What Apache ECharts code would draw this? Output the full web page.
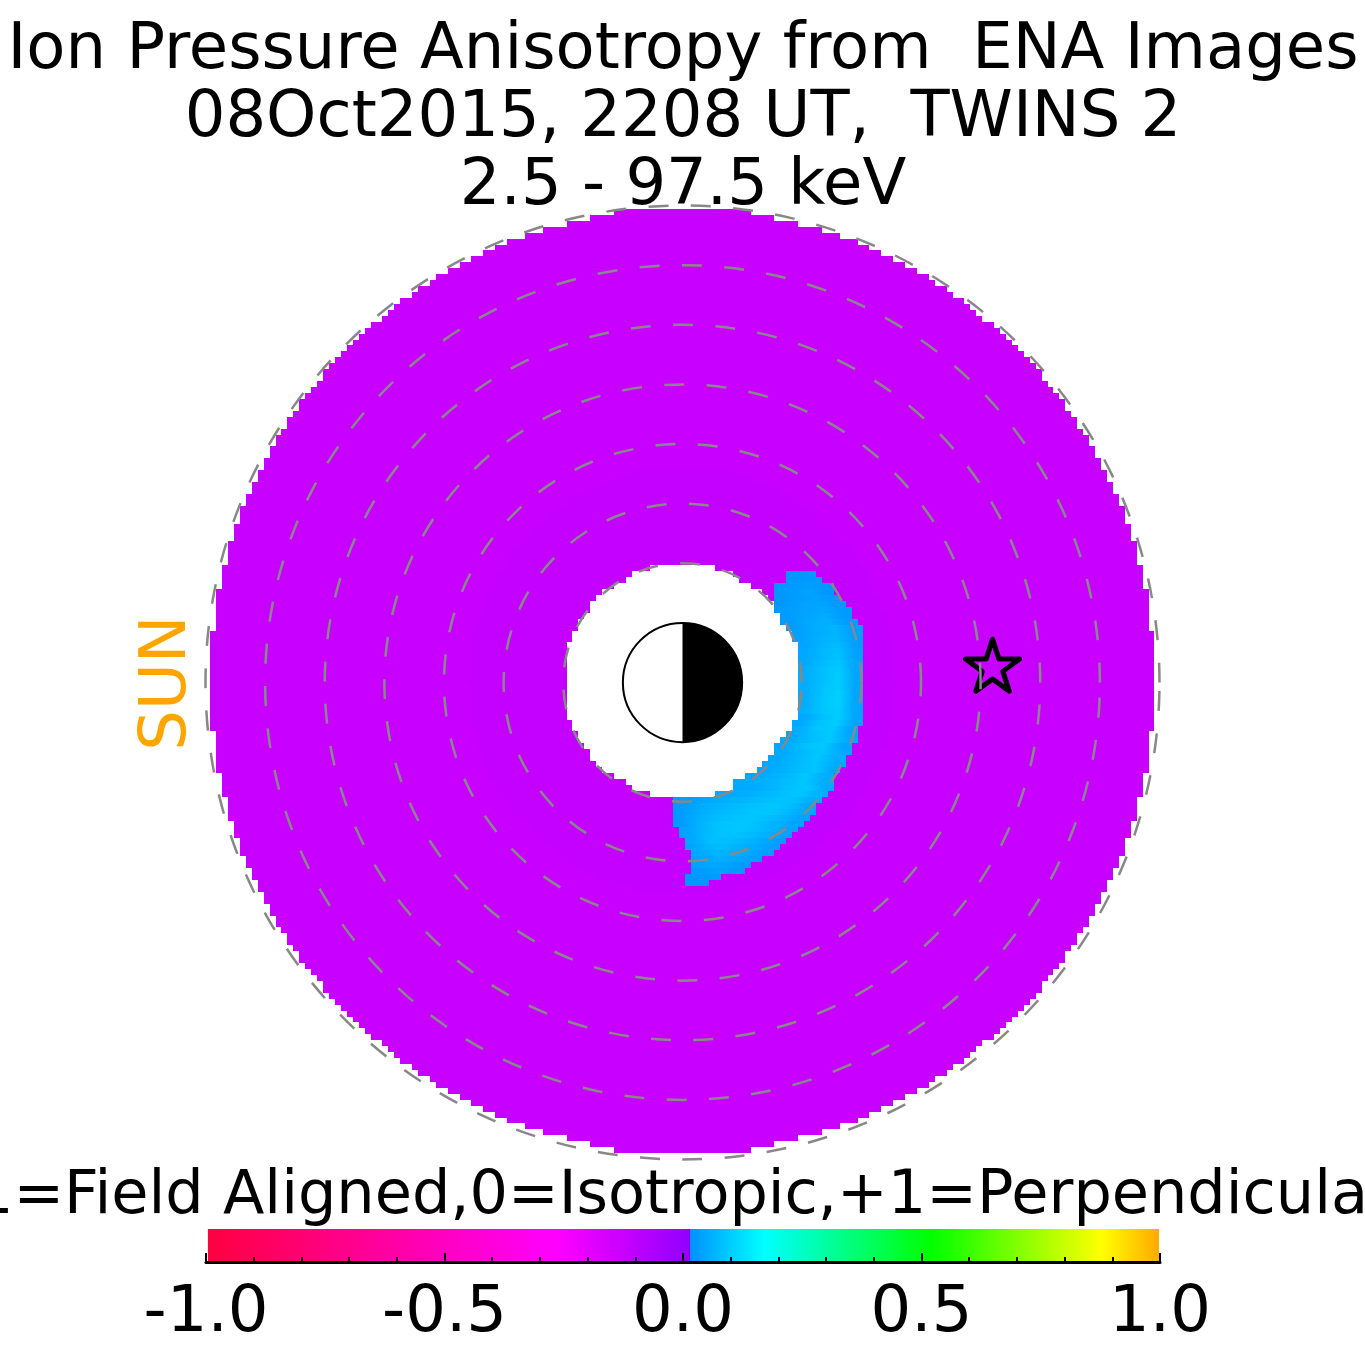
<!DOCTYPE html>
<html>
<head>
<meta charset="utf-8">
<style>
  html, body { margin: 0; padding: 0; background: #fff; }
  #chart { width: 1365px; height: 1365px; }
</style>
<script src="https://cdn.jsdelivr.net/npm/echarts@6/dist/echarts.min.js"></script>
</head>
<body>
<div id="chart"></div>
<script>
// one cell of the image is about 0.1 Re, rows and columns below are counted in cells from the Earth
const cellSize = 0.0996;
const cellOriginX = -0.003;
const cellOriginY = 0.025;
const backgroundValue = -0.125;
const nearEarthValue = -0.115;

// half width of the image for row |k| = 0..79
const outerHalfWidth = [
  79, 79, 79, 79, 79, 79, 79, 79, 79, 78, 78, 78, 78, 78, 78, 78, 77, 77, 77, 77,
  76, 76, 76, 76, 75, 75, 75, 74, 74, 74, 73, 73, 72, 72, 71, 71, 70, 70, 69, 69,
  68, 68, 67, 66, 66, 65, 64, 64, 63, 62, 61, 60, 60, 59, 58, 57, 56, 55, 54, 53,
  52, 50, 49, 48, 47, 45, 44, 42, 41, 39, 37, 35, 33, 31, 29, 26, 23, 19, 15, 11
];
// half width of the slightly darker zone around the Earth for row |k| = 0..35
const nearEarthHalfWidth = [
  36, 35, 35, 35, 35, 35, 35, 35, 35, 34, 34, 34, 33, 33, 33, 32, 32, 31, 31, 30,
  29, 29, 28, 27, 26, 25, 24, 23, 22, 21, 19, 18, 16, 14, 11, 8
];
// half width of the empty middle for row |k| = 0..19
const innerHalfWidth = [
  19, 19, 19, 19, 19, 19, 19, 18, 18, 17, 17, 16, 15, 15, 14, 13, 11, 9, 8, 5
];

// the crescent: row, first column, last column, then values read across the row
const crescentRows = [
  [18, 18, 22, .025, .03],
  [17, 18, 23, .025, .03],
  [16, 16, 25, .025, .03, .035, .025],
  [15, 16, 25, .025, .035, .04, .025],
  [14, 16, 26, .025, .035, .04, .03],
  [13, 16, 27, .025, .04, .045, .03],
  [12, 16, 28, .03, .04, .05, .03],
  [11, 17, 28, .03, .045, .055, .03],
  [10, 17, 29, .03, .05, .06, .03],
  [9, 18, 30, .035, .055, .065, .035],
  [8, 19, 30, .04, .055, .065, .035],
  [7, 19, 30, .04, .06, .07, .035],
  [6, 20, 30, .045, .065, .075, .035],
  [5, 20, 30, .05, .07, .08, .04],
  [4, 20, 30, .05, .07, .085, .04],
  [3, 20, 30, .05, .075, .09, .045],
  [2, 20, 30, .055, .08, .095, .045],
  [1, 20, 30, .055, .08, .10, .045],
  [0, 20, 30, .055, .08, .10, .045],
  [-1, 20, 30, .055, .085, .10, .045],
  [-2, 20, 30, .055, .085, .105, .045],
  [-3, 20, 30, .055, .09, .105, .045],
  [-4, 20, 30, .055, .09, .105, .045],
  [-5, 20, 30, .06, .09, .10, .045],
  [-6, 20, 30, .05, .08, .10, .045],
  [-7, 19, 30, .05, .085, .10, .045],
  [-8, 19, 29, .055, .09, .095, .045],
  [-9, 18, 29, .05, .08, .095, .045],
  [-10, 17, 29, .05, .075, .095, .05],
  [-11, 16, 28, .05, .08, .095, .045],
  [-12, 16, 28, .05, .075, .09, .05],
  [-13, 15, 27, .05, .07, .09, .055],
  [-14, 14, 27, .05, .07, .09, .05],
  [-15, 13, 26, .05, .06, .075, .09, .05],
  [-16, 11, 25, .05, .06, .075, .09, .055],
  [-17, 9, 25, .05, .06, .075, .09, .055],
  [-18, 9, 25, .05, .055, .07, .085, .09, .05],
  [-19, 6, 24, .05, .055, .065, .08, .09, .06],
  [-20, -1, 23, .03, .045, .055, .065, .075, .085, .085, .055],
  [-21, -1, 22, .03, .05, .065, .075, .085, .09, .08, .05],
  [-22, -1, 22, .03, .055, .07, .08, .09, .09, .07, .045],
  [-23, -1, 21, .03, .06, .075, .085, .09, .08, .065, .04],
  [-24, -1, 20, .03, .06, .08, .09, .09, .075, .06, .04],
  [-25, 0, 19, .045, .07, .085, .09, .08, .065, .04],
  [-26, 0, 18, .04, .07, .085, .085, .075, .06, .04],
  [-27, 1, 17, .05, .08, .08, .07, .055, .035],
  [-28, 1, 16, .045, .07, .075, .06, .05, .035],
  [-29, 2, 15, .05, .065, .06, .05, .035],
  [-30, 2, 13, .045, .06, .05, .035],
  [-31, 2, 11, .04, .05, .04, .03],
  [-32, 2, 10, .03, .04, .03],
  [-33, 1, 6, .025, .03],
  [-34, 1, 4, .025, .025]
];

const ringRadii = [2, 3, 4, 5, 6, 7, 8];
const earthRadius = [1];
const spacecraft = [[5.2, 0.29]];
const colorbarExtent = [-0.996, 0.998];

// colour table of the bar, two stops at the jump just above zero
const colorStops = [-1, -0.264, 0.015, 0.015, 0.17, 0.52, 0.878, 1];
const colorNames = ['#ff0040', '#ff00ff', '#9000ff', '#0090ff', '#00ffff', '#00ff00', '#ffff00', '#ffaa00'];

function colorOf(v) {
  for (let i = 1; i < colorStops.length; i++) {
    if (v <= colorStops[i] && colorStops[i] > colorStops[i - 1]) {
      const t = (v - colorStops[i - 1]) / (colorStops[i] - colorStops[i - 1]);
      return echarts.color.lerp(t, [colorNames[i - 1], colorNames[i]]);
    }
  }
  return colorNames[colorNames.length - 1];
}

// rows of one value with a gap for the empty middle
function addRows(list, widths, value) {
  for (let k = 1 - widths.length; k < widths.length; k++) {
    const row = Math.abs(k);
    if (row < innerHalfWidth.length) {
      list.push([k, -widths[row], -innerHalfWidth[row] - 1, value]);
      list.push([k, innerHalfWidth[row] + 1, widths[row], value]);
    } else {
      list.push([k, -widths[row], widths[row], value]);
    }
  }
}
const cells = [];
addRows(cells, outerHalfWidth, backgroundValue);
addRows(cells, nearEarthHalfWidth, nearEarthValue);

// snap to whole pixels so no seams show between rows
function rowRect(api, k, from, to) {
  const p0 = api.coord([(from - 0.5) * cellSize + cellOriginX, (k + 0.5) * cellSize + cellOriginY]);
  const p1 = api.coord([(to + 0.5) * cellSize + cellOriginX, (k - 0.5) * cellSize + cellOriginY]);
  const x = Math.round(p0[0]);
  const y = Math.round(p0[1]);
  return { x: x, y: y, width: Math.round(p1[0]) - x, height: Math.round(p1[1]) - y };
}

function renderCell(params, api) {
  return {
    type: 'rect',
    shape: rowRect(api, api.value(0), api.value(1), api.value(2)),
    style: { fill: colorOf(api.value(3)) }
  };
}

function renderCrescent(params, api) {
  const vals = crescentRows[params.dataIndex].slice(3);
  const stops = vals.map(function (v, i) {
    return { offset: (i + 0.5) / vals.length, color: colorOf(v) };
  });
  return {
    type: 'rect',
    shape: rowRect(api, api.value(0), api.value(1), api.value(2)),
    style: { fill: new echarts.graphic.LinearGradient(0, 0, 1, 0, stops) }
  };
}

function renderRing(params, api) {
  const c = api.coord([0, 0]);
  return {
    type: 'arc',
    shape: {
      cx: c[0], cy: c[1], r: api.size([api.value(0), 0])[0],
      startAngle: 0, endAngle: -Math.PI * 2, clockwise: false
    },
    style: { fill: null, stroke: '#888888', lineWidth: 2.5, lineDash: [20, 22.4] }
  };
}

function renderEarth(params, api) {
  const c = api.coord([0, 0]);
  const r = api.size([api.value(0), 0])[0];
  return {
    type: 'group',
    children: [
      { type: 'circle', shape: { cx: c[0], cy: c[1], r: r }, style: { fill: '#fff', stroke: '#000', lineWidth: 2 } },
      {
        type: 'sector',
        shape: { cx: c[0], cy: c[1], r0: 0, r: r, startAngle: -Math.PI / 2, endAngle: Math.PI / 2 },
        style: { fill: '#000' }
      }
    ]
  };
}

function renderColorbar(params, api) {
  const a = api.value(0);
  const b = api.value(1);
  const p0 = api.coord([a, 1]);
  const p1 = api.coord([b, 0]);
  const stops = colorStops.map(function (v, i) {
    return { offset: Math.min(1, Math.max(0, (v - a) / (b - a))), color: colorNames[i] };
  });
  return {
    type: 'rect',
    shape: { x: p0[0], y: p0[1], width: p1[0] - p0[0], height: p1[1] - p0[1] },
    style: { fill: new echarts.graphic.LinearGradient(0, 0, 1, 0, stops) }
  };
}

const font = 'DejaVu Sans';
const mychart = echarts.init(document.getElementById('chart'));
mychart.setOption({
  animation: false,
  backgroundColor: '#fff',
  title: [
    {
      text: 'Ion Pressure Anisotropy from  ENA Images\n08Oct2015, 2208 UT,  TWINS 2\n2.5 - 97.5 keV',
      left: 683, top: 17, padding: 0, itemGap: 0,
      textAlign: 'center',
      textStyle: { fontFamily: font, fontSize: 64, fontWeight: 'normal', color: '#000', lineHeight: 68 }
    },
    {
      text: '-1=Field Aligned,0=Isotropic,+1=Perpendicular',
      left: 673, top: 1163, padding: 0,
      textAlign: 'center',
      textStyle: { fontFamily: font, fontSize: 60.5, fontWeight: 'normal', color: '#000', lineHeight: 68 }
    }
  ],
  graphic: [
    {
      type: 'text', x: 168, y: 683, rotation: Math.PI / 2,
      style: { text: 'SUN', fontFamily: font, fontSize: 64, fill: '#ffa500', align: 'center', verticalAlign: 'middle' }
    }
  ],
  grid: [
    { left: 205.5, top: 205.5, width: 954, height: 954 },
    { left: 206, top: 1229, width: 954, height: 33 }
  ],
  xAxis: [
    { type: 'value', gridIndex: 0, min: -8, max: 8, show: false },
    {
      type: 'value', gridIndex: 1, min: -1, max: 1, interval: 0.5, z: 10,
      axisLine: { show: true, onZero: false, lineStyle: { color: '#000', width: 3 } },
      axisTick: { show: true, inside: true, length: 9, lineStyle: { color: '#000', width: 2 } },
      minorTick: { show: true, splitNumber: 5, length: 5, lineStyle: { color: '#000', width: 2 } },
      splitLine: { show: false },
      axisLabel: {
        show: true, margin: 20, hideOverlap: false, showMinLabel: true, showMaxLabel: true,
        fontFamily: font, fontSize: 64, color: '#000',
        formatter: function (v) { return v.toFixed(1); }
      }
    }
  ],
  yAxis: [
    { type: 'value', gridIndex: 0, min: -8, max: 8, show: false },
    { type: 'value', gridIndex: 1, min: 0, max: 1, show: false }
  ],
  series: [
    { type: 'custom', xAxisIndex: 0, yAxisIndex: 0, z: 2, silent: true, renderItem: renderCell, data: cells },
    {
      type: 'custom', xAxisIndex: 0, yAxisIndex: 0, z: 2, silent: true, renderItem: renderCrescent,
      data: crescentRows.map(function (r) { return r.slice(0, 3); })
    },
    {
      type: 'scatter', xAxisIndex: 0, yAxisIndex: 0, z: 3, silent: true, data: spacecraft,
      symbol: 'path://M0 -1L.2245 -.309L.951 -.309L.363 .118L.588 .809L0 .382L-.588 .809L-.363 .118L-.951 -.309L-.2245 -.309Z',
      symbolSize: [54, 52],
      itemStyle: { color: 'transparent', borderColor: '#000', borderWidth: 5, borderJoin: 'round', opacity: 1 }
    },
    { type: 'custom', xAxisIndex: 0, yAxisIndex: 0, z: 4, silent: true, renderItem: renderRing, data: ringRadii.map(function (r) { return [r]; }) },
    { type: 'custom', xAxisIndex: 0, yAxisIndex: 0, z: 5, silent: true, renderItem: renderEarth, data: earthRadius.map(function (r) { return [r]; }) },
    { type: 'custom', xAxisIndex: 1, yAxisIndex: 1, z: 2, silent: true, renderItem: renderColorbar, data: [colorbarExtent] }
  ]
});
</script>
</body>
</html>
